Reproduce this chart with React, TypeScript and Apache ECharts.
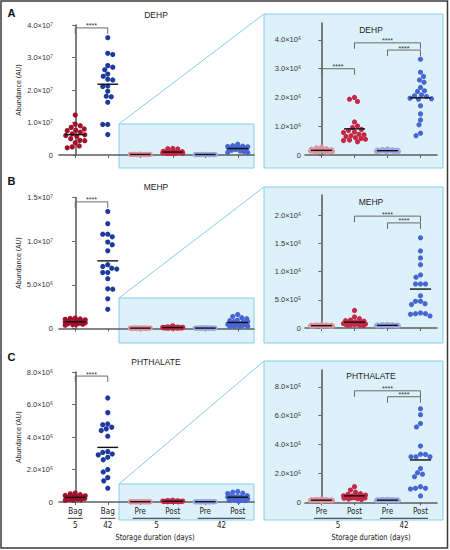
import React, { useEffect, useRef } from "react";
import * as echarts from "echarts";

// ---------- categories / labels ----------
const LEFT_CATS = ["Bag", "Bag", "Pre", "Post", "Pre", "Post"];
const RIGHT_CATS = ["Pre", "Post", "Pre", "Post"];
const LEFT_GROUPS = [
  { label: "5", from: 0, to: 0 },
  { label: "42", from: 1, to: 1 },
  { label: "5", from: 2, to: 3 },
  { label: "42", from: 4, to: 5 },
];
const RIGHT_GROUPS = [
  { label: "5", from: 0, to: 1 },
  { label: "42", from: 2, to: 3 },
];
const X_TITLE = "Storage duration (days)";
const Y_TITLE = "Abundance (AU)";

// ---------- DEHP ----------
const DEHP_BAG5 = [1.23e7, 0.95e7, 0.9e7, 0.85e7, 0.8e7, 0.76e7, 0.75e7, 0.7e7, 0.65e7, 0.62e7, 0.58e7, 0.6e7, 0.5e7, 0.45e7, 0.44e7, 0.38e7, 0.28e7, 0.25e7, 0.22e7];
const DEHP_BAG42 = [3.61e7, 3.13e7, 3.09e7, 2.75e7, 2.7e7, 2.62e7, 2.49e7, 2.42e7, 2.33e7, 2.31e7, 2.12e7, 2.11e7, 1.96e7, 1.81e7, 1.79e7, 1.62e7, 0.94e7, 0.94e7, 0.63e7];
const DEHP_PRE5 = [0.1e6, 0.12e6, 0.13e6, 0.14e6, 0.15e6, 0.15e6, 0.16e6, 0.17e6, 0.18e6, 0.2e6, 0.22e6, 0.12e6, 0.14e6, 0.16e6, 0.13e6, 0.18e6, 0.11e6, 0.25e6, 0.27e6, 0.14e6];
const DEHP_POST5 = [2.0e6, 1.94e6, 1.86e6, 1.15e6, 1.01e6, 0.96e6, 0.89e6, 0.85e6, 0.8e6, 0.78e6, 0.72e6, 0.7e6, 0.67e6, 0.64e6, 0.6e6, 0.57e6, 0.55e6, 0.52e6, 0.5e6, 0.46e6];
const DEHP_PRE42 = [0.11e6, 0.12e6, 0.13e6, 0.14e6, 0.14e6, 0.15e6, 0.15e6, 0.16e6, 0.16e6, 0.17e6, 0.18e6, 0.12e6, 0.13e6, 0.15e6, 0.14e6, 0.17e6, 0.19e6, 0.21e6, 0.13e6, 0.16e6];
const DEHP_POST42 = [3.33e6, 2.88e6, 2.73e6, 2.61e6, 2.53e6, 2.35e6, 2.23e6, 2.21e6, 2.09e6, 2.06e6, 2.03e6, 1.97e6, 1.96e6, 1.94e6, 1.71e6, 1.43e6, 1.22e6, 1.05e6, 0.76e6, 0.67e6];

// ---------- MEHP ----------
const MEHP_BAG5 = [1.2e6, 1.15e6, 1.1e6, 1.05e6, 1.0e6, 0.95e6, 0.9e6, 0.85e6, 0.8e6, 0.75e6, 0.72e6, 0.7e6, 0.65e6, 0.6e6, 0.55e6, 0.5e6, 0.45e6, 0.42e6, 0.38e6];
const MEHP_BAG42 = [13.4e6, 12.0e6, 10.8e6, 10.8e6, 10.5e6, 9.9e6, 9.6e6, 8.9e6, 7.3e6, 7.1e6, 6.9e6, 6.8e6, 6.4e6, 6.4e6, 5.7e6, 4.5e6, 4.55e6, 3.4e6, 2.2e6];
const MEHP_PRE5 = [0.25e5, 0.3e5, 0.35e5, 0.38e5, 0.4e5, 0.4e5, 0.42e5, 0.45e5, 0.48e5, 0.5e5, 0.55e5, 0.6e5, 0.32e5, 0.36e5, 0.44e5, 0.46e5, 0.38e5, 0.42e5, 0.52e5, 0.34e5];
const MEHP_POST5 = [3.1e5, 1.95e5, 1.65e5, 1.4e5, 1.3e5, 1.2e5, 1.1e5, 1.0e5, 0.9e5, 0.9e5, 0.8e5, 0.8e5, 0.7e5, 0.7e5, 0.6e5, 0.6e5, 0.55e5, 0.5e5, 0.5e5, 0.45e5];
const MEHP_PRE42 = [0.3e5, 0.35e5, 0.4e5, 0.42e5, 0.45e5, 0.45e5, 0.48e5, 0.5e5, 0.52e5, 0.55e5, 0.6e5, 0.62e5, 0.38e5, 0.44e5, 0.47e5, 0.5e5, 0.53e5, 0.41e5, 0.36e5, 0.58e5];
const MEHP_POST42 = [15.96e5, 13.65e5, 12.4e5, 11.2e5, 9.4e5, 9.0e5, 7.8e5, 7.8e5, 7.8e5, 5.7e5, 4.73e5, 4.73e5, 4.31e5, 4.14e5, 2.66e5, 2.54e5, 2.54e5, 2.42e5, 2.13e5];

// ---------- PHTHALATE ----------
const PHTH_BAG5 = [0.55e6, 0.5e6, 0.45e6, 0.4e6, 0.38e6, 0.35e6, 0.32e6, 0.3e6, 0.28e6, 0.26e6, 0.24e6, 0.22e6, 0.2e6, 0.18e6, 0.16e6, 0.14e6, 0.12e6, 0.1e6, 0.25e6];
const PHTH_BAG42 = [6.4e6, 5.5e6, 4.8e6, 4.75e6, 4.6e6, 4.5e6, 4.4e6, 4.05e6, 3.1e6, 3.05e6, 2.95e6, 2.9e6, 2.75e6, 2.6e6, 2.0e6, 1.85e6, 1.5e6, 1.3e6, 0.85e6];
const PHTH_PRE5 = [0.08e5, 0.1e5, 0.12e5, 0.13e5, 0.14e5, 0.15e5, 0.15e5, 0.16e5, 0.17e5, 0.18e5, 0.2e5, 0.22e5, 0.12e5, 0.14e5, 0.16e5, 0.1e5, 0.19e5, 0.13e5, 0.17e5, 0.15e5];
const PHTH_POST5 = [1.08e5, 0.85e5, 0.7e5, 0.6e5, 0.55e5, 0.5e5, 0.45e5, 0.42e5, 0.4e5, 0.38e5, 0.35e5, 0.32e5, 0.3e5, 0.28e5, 0.25e5, 0.22e5, 0.2e5, 0.3e5, 0.4e5, 0.45e5];
const PHTH_PRE42 = [0.09e5, 0.1e5, 0.12e5, 0.13e5, 0.14e5, 0.15e5, 0.16e5, 0.16e5, 0.17e5, 0.18e5, 0.2e5, 0.21e5, 0.11e5, 0.14e5, 0.15e5, 0.12e5, 0.18e5, 0.13e5, 0.17e5, 0.19e5];
const PHTH_POST42 = [6.48e5, 6.07e5, 5.45e5, 5.22e5, 3.89e5, 3.31e5, 3.15e5, 3.15e5, 3.15e5, 3.33e5, 2.34e5, 2.05e5, 1.95e5, 1.77e5, 1.08e5, 0.97e5, 0.97e5, 0.92e5, 0.44e5];

// ---------- axis ticks ----------
const DEHP_LEFT_TICKS = [0, 1e7, 2e7, 3e7, 4e7];
const DEHP_RIGHT_TICKS = [0, 1e6, 2e6, 3e6, 4e6];
const MEHP_LEFT_TICKS = [0, 5e6, 1e7, 1.5e7];
const MEHP_RIGHT_TICKS = [0, 5e5, 1e6, 1.5e6, 2e6];
const PHTH_LEFT_TICKS = [0, 2e6, 4e6, 6e6, 8e6];
const PHTH_RIGHT_TICKS = [0, 2e5, 4e5, 6e5, 8e5];

// significance brackets: [fromCat, toCat, level]
const DEHP_LEFT_BR = [[0, 1, 3.91e7]];
const DEHP_RIGHT_BR = [[0, 1, 3.0e6], [1, 3, 3.9e6], [2, 3, 3.65e6]];
const MEHP_LEFT_BR = [[0, 1, 1.45e7]];
const MEHP_RIGHT_BR = [[1, 3, 1.98e6], [2, 3, 1.86e6]];
const PHTH_LEFT_BR = [[0, 1, 7.75e6]];
const PHTH_RIGHT_BR = [[1, 3, 7.72e5], [2, 3, 7.31e5]];

// ---------- styles ----------
const C_BAG5 = "#a0112b";
const C_BAG42 = "#1c3a9c";
const C_PRE5 = "#e0939f";
const C_POST5 = "#c42846";
const C_PRE42 = "#9ba8e2";
const C_POST42 = "#4766d2";
const LEFT_COLORS = [C_BAG5, C_BAG42, C_PRE5, C_POST5, C_PRE42, C_POST42];
const RIGHT_COLORS = [C_PRE5, C_POST5, C_PRE42, C_POST42];
const BOX_FILL = "#ddf1fa";
const BOX_STROKE = "#86cdea";
const AXIS_COLOR = "#5e5e5e";
const NARROW = "'Liberation Sans Narrow', 'DejaVu Sans Condensed', 'Liberation Sans', sans-serif";
const SANS = "'Liberation Sans', Arial, Helvetica, sans-serif";

const LEFT_X0 = 59, LEFT_X1 = 254, RIGHT_X0 = 305, RIGHT_X1 = 437;
const SMALL_X0 = 119, SMALL_X1 = 254, BIG_X0 = 264, BIG_X1 = 443;

const PANELS = [
  {
    letter: "A", title: "DEHP", letterY: 13, leftTitleY: 15, rightTitleY: 29.5,
    left: { top: 25, bottom: 155, max: 4e7, ticks: DEHP_LEFT_TICKS, data: [DEHP_BAG5, DEHP_BAG42, DEHP_PRE5, DEHP_POST5, DEHP_PRE42, DEHP_POST42], br: DEHP_LEFT_BR },
    right: { top: 23, bottom: 155, max: 4.59e6, ticks: DEHP_RIGHT_TICKS, data: [DEHP_PRE5, DEHP_POST5, DEHP_PRE42, DEHP_POST42], br: DEHP_RIGHT_BR },
    small: { top: 124, bottom: 168 }, big: { top: 14, bottom: 168 }, xlabels: false,
  },
  {
    letter: "B", title: "MEHP", letterY: 181, leftTitleY: 187, rightTitleY: 201.5,
    left: { top: 197.5, bottom: 328.5, max: 1.5e7, ticks: MEHP_LEFT_TICKS, data: [MEHP_BAG5, MEHP_BAG42, MEHP_PRE5, MEHP_POST5, MEHP_PRE42, MEHP_POST42], br: MEHP_LEFT_BR },
    right: { top: 195, bottom: 328, max: 2.354e6, ticks: MEHP_RIGHT_TICKS, data: [MEHP_PRE5, MEHP_POST5, MEHP_PRE42, MEHP_POST42], br: MEHP_RIGHT_BR },
    small: { top: 298, bottom: 343 }, big: { top: 187, bottom: 343 }, xlabels: false,
  },
  {
    letter: "C", title: "PHTHALATE", letterY: 357, leftTitleY: 362, rightTitleY: 376,
    left: { top: 372, bottom: 502, max: 8e6, ticks: PHTH_LEFT_TICKS, data: [PHTH_BAG5, PHTH_BAG42, PHTH_PRE5, PHTH_POST5, PHTH_PRE42, PHTH_POST42], br: PHTH_LEFT_BR },
    right: { top: 370, bottom: 502.3, max: 9.16e5, ticks: PHTH_RIGHT_TICKS, data: [PHTH_PRE5, PHTH_POST5, PHTH_PRE42, PHTH_POST42], br: PHTH_RIGHT_BR },
    small: { top: 484, bottom: 520 }, big: { top: 361, bottom: 520 }, xlabels: true,
  },
];

const SUP: Record<string, string> = { "0": "⁰", "1": "¹", "2": "²", "3": "³", "4": "⁴", "5": "⁵", "6": "⁶", "7": "⁷", "8": "⁸", "9": "⁹" };
function sci(v: number): string {
  if (v === 0) return "0";
  const e = Math.floor(Math.log10(v) + 1e-9);
  const m = v / Math.pow(10, e);
  return `${m.toFixed(1)}×10${String(e).split("").map((c) => SUP[c]).join("")}`;
}
function mean(a: number[]) {
  return a.reduce((s, v) => s + v, 0) / a.length;
}

// beeswarm layout in pixel space
function swarm(values: number[], pxPerX: number, pxPerY: number, d: number, maxHalf: number): [number, number][] {
  const order = values.map((_, i) => i).sort((a, b) => values[b] - values[a]);
  const placed: { x: number; y: number }[] = [];
  const out: [number, number][] = new Array(values.length);
  const step = 0.5;
  order.forEach((i, n) => {
    const y = values[i] * pxPerY;
    let chosen: number | null = null;
    let bestDx = 0, bestScore = -Infinity;
    for (let k = 0; k * step <= maxHalf; k++) {
      const cands = k === 0 ? [0] : n % 2 ? [-k * step, k * step] : [k * step, -k * step];
      for (const dx of cands) {
        let minD = Infinity;
        for (const p of placed) {
          const dd = Math.hypot(p.x - dx, p.y - y);
          if (dd < minD) minD = dd;
        }
        if (minD >= d) { chosen = dx; break; }
        if (minD > bestScore + 0.01) { bestScore = minD; bestDx = dx; }
      }
      if (chosen !== null) break;
    }
    const dx = chosen !== null ? chosen : bestDx;
    placed.push({ x: dx, y });
    out[i] = [dx / pxPerX, values[i]];
  });
  return out;
}

function buildOption() {
  const grid: any[] = [], xAxis: any[] = [], yAxis: any[] = [], series: any[] = [], els: any[] = [];
  els.push({ type: "rect", z: 50, shape: { x: 1, y: 1, width: 446.5, height: 547 }, style: { fill: "none", stroke: "#3a3a3a", lineWidth: 1.5 } });

  PANELS.forEach((p) => {
    els.push({ type: "rect", z: 0, shape: { x: SMALL_X0, y: p.small.top, width: SMALL_X1 - SMALL_X0, height: p.small.bottom - p.small.top }, style: { fill: BOX_FILL, stroke: BOX_STROKE, lineWidth: 1 } });
    els.push({ type: "rect", z: 0, shape: { x: BIG_X0, y: p.big.top, width: BIG_X1 - BIG_X0, height: p.big.bottom - p.big.top }, style: { fill: BOX_FILL, stroke: BOX_STROKE, lineWidth: 1 } });
    els.push({ type: "line", z: 1, shape: { x1: SMALL_X0, y1: p.small.top, x2: BIG_X0, y2: p.big.top }, style: { stroke: BOX_STROKE, lineWidth: 1 } });
    els.push({ type: "text", z: 20, x: 11.5, y: p.letterY, style: { text: p.letter, fontSize: 11, fontWeight: "bold", fontFamily: SANS, fill: "#111", align: "center", verticalAlign: "middle" } });
    els.push({ type: "text", z: 20, x: 156, y: p.leftTitleY, style: { text: p.title, fontSize: 8.5, fontFamily: SANS, fill: "#222", align: "center", verticalAlign: "middle" } });
    els.push({ type: "text", z: 20, x: 371, y: p.rightTitleY, style: { text: p.title, fontSize: 8.5, fontFamily: SANS, fill: "#222", align: "center", verticalAlign: "middle" } });
    els.push({ type: "text", z: 20, x: 19, y: (p.left.top + p.left.bottom) / 2, rotation: Math.PI / 2, style: { text: Y_TITLE, fontSize: 7, fontFamily: NARROW, fill: "#222", align: "center", verticalAlign: "middle" } });

    const charts = [
      { ...p.left, x0: LEFT_X0, x1: LEFT_X1, cats: LEFT_CATS, colors: LEFT_COLORS, groups: LEFT_GROUPS, labelMargin: 6, maxHalf: 10 },
      { ...p.right, x0: RIGHT_X0, x1: RIGHT_X1, cats: RIGHT_CATS, colors: RIGHT_COLORS, groups: RIGHT_GROUPS, labelMargin: 4, maxHalf: 11 },
    ];
    charts.forEach((c) => {
      const g = grid.length;
      const w = c.x1 - c.x0, h = c.bottom - c.top, n = c.cats.length;
      const pxX = w / n, pxY = h / c.max;
      const catX = (i: number) => c.x0 + (i + 0.5) * pxX;
      const valY = (v: number) => c.bottom - v * pxY;
      grid.push({ left: c.x0, top: c.top, width: w, height: h, containLabel: false });
      xAxis.push({
        type: "category", gridIndex: g, data: c.cats, z: 5, boundaryGap: true,
        axisLine: { show: true, lineStyle: { color: AXIS_COLOR, width: 1.6 } },
        axisTick: { show: true, alignWithLabel: true, length: 3, lineStyle: { color: AXIS_COLOR, width: 1 } },
        axisLabel: { show: p.xlabels, margin: 5.5, fontSize: 8, fontFamily: NARROW, color: "#222", interval: 0 },
        splitLine: { show: false },
      });
      xAxis.push({ type: "value", gridIndex: g, min: -0.5, max: n - 0.5, show: false });
      yAxis.push({
        type: "value", gridIndex: g, min: 0, max: c.max, z: 5,
        axisLine: { show: true, lineStyle: { color: AXIS_COLOR, width: 1.6 } },
        axisTick: { show: true, length: 3, customValues: c.ticks, lineStyle: { color: AXIS_COLOR, width: 1 } },
        axisLabel: { customValues: c.ticks, formatter: (v: number) => sci(v), fontSize: 7.5, fontFamily: SANS, color: "#333", margin: c.labelMargin },
        splitLine: { show: false },
      });
      c.data.forEach((vals: number[], i: number) => {
        series.push({
          type: "scatter", xAxisIndex: 2 * g + 1, yAxisIndex: g, z: 6, clip: false, silent: true,
          symbol: "circle", symbolSize: 5.2, itemStyle: { color: c.colors[i], opacity: 1 },
          data: swarm(vals, pxX, pxY, 5.0, c.maxHalf).map(([dx, v]) => [i + dx, v]),
        });
      });
      series.push({
        type: "custom", xAxisIndex: 2 * g + 1, yAxisIndex: g, z: 8, clip: false, silent: true,
        encode: { x: 0, y: 1 },
        data: c.data.map((vals: number[], i: number) => [i, mean(vals)]),
        renderItem: (_: any, api: any) => {
          const a = api.coord([api.value(0) - 0.32, api.value(1)]);
          const b = api.coord([api.value(0) + 0.32, api.value(1)]);
          return { type: "line", shape: { x1: a[0], y1: a[1], x2: b[0], y2: b[1] }, style: { stroke: "#111", lineWidth: 1.4 } };
        },
      });
      // significance brackets
      c.br.forEach((b: number[]) => {
        const xa = catX(b[0]), xb = catX(b[1]), y = valY(b[2]);
        const leg = 6;
        els.push({ type: "polyline", z: 20, shape: { points: [[xa, y + leg], [xa, y], [xb, y], [xb, y + leg]] }, style: { stroke: "#6a6a6a", lineWidth: 1, fill: "none" } });
        els.push({ type: "text", z: 20, x: (xa + xb) / 2, y: y + 1.5, style: { text: "****", fontSize: 7, fontFamily: SANS, fill: "#333", align: "center", verticalAlign: "bottom" } });
      });
      if (p.xlabels) {
        c.groups.forEach((gr: any) => {
          const cx0 = catX(gr.from);
          const cx1 = catX(gr.to);
          els.push({ type: "line", z: 20, shape: { x1: cx0 - 7.5, y1: 518.3, x2: cx1 + 7.5, y2: 518.3 }, style: { stroke: "#333", lineWidth: 1 } });
          els.push({ type: "text", z: 20, x: (cx0 + cx1) / 2, y: 525, style: { text: gr.label, fontSize: 8, fontFamily: NARROW, fill: "#222", align: "center", verticalAlign: "middle" } });
        });
        els.push({ type: "text", z: 20, x: (c.x0 + c.x1) / 2 + (c.x0 === LEFT_X0 ? -1.5 : 0), y: 537.5, scaleX: 0.87, style: { text: X_TITLE, fontSize: 8.5, fontFamily: NARROW, fill: "#222", align: "center", verticalAlign: "middle" } });
      }
    });
  });

  return {
    animation: false,
    backgroundColor: "#fff",
    grid, xAxis, yAxis, series,
    graphic: { elements: els },
  };
}

export default function App() {
  const ref = useRef<HTMLDivElement>(null);
  useEffect(() => {
    const chart = echarts.init(ref.current!, null, { renderer: "svg" });
    chart.setOption(buildOption());
    return () => chart.dispose();
  }, []);
  return <div ref={ref} style={{ position: "fixed", left: 0, top: 0, width: 450, height: 550, background: "#fff" }} />;
}
